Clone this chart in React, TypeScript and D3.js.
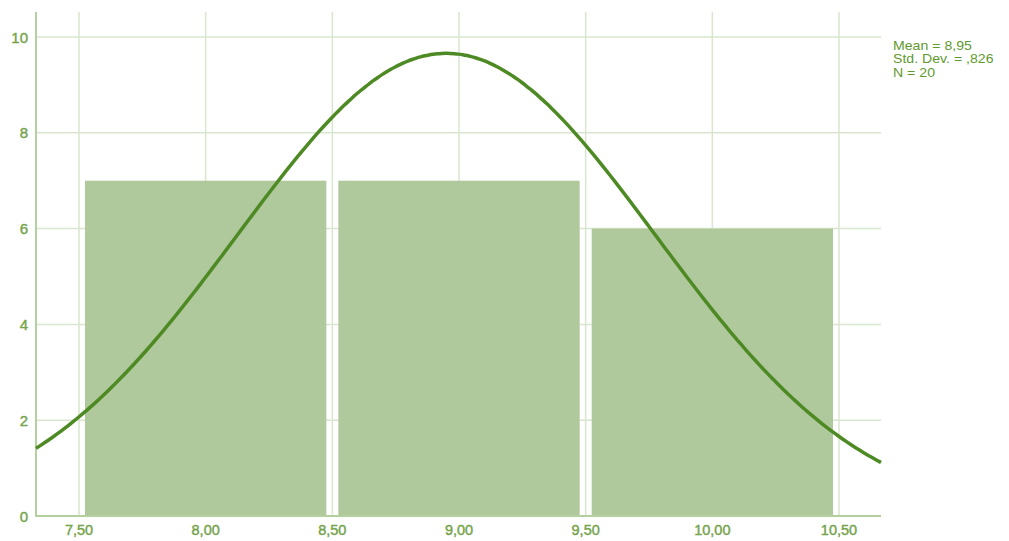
import React from "react";
import * as d3 from "d3";

const binStarts = [7.5, 8.5, 9.5];
const binCounts = [7, 7, 6];
const binWidth = 1;
const xTicks = [7.5, 8.0, 8.5, 9.0, 9.5, 10.0, 10.5];
const yTicks = [0, 2, 4, 6, 8, 10];
const statLabels = ["Mean = 8,95", "Std. Dev. = ,826", "N = 20"];
const mean = 8.95;
const sd = 0.826;
const n = 20;

const W = 1009;
const H = 541;
const left = 36;
const right = 881;
const top = 12;
const bottom = 516;

export default function App() {
  const x = d3.scaleLinear().domain([7.5, 10.5]).range([79, 839]);
  const y = d3.scaleLinear().domain([0, 10]).range([bottom, 37]);
  const x0 = x.invert(left);
  const x1 = x.invert(right);
  const pts: [number, number][] = d3.range(0, 201).map((i) => {
    const v = x0 + ((x1 - x0) * i) / 200;
    const z = (v - mean) / sd;
    const d = (n * binWidth) / (sd * Math.sqrt(2 * Math.PI)) * Math.exp(-0.5 * z * z);
    return [v, d];
  });
  const line = d3
    .line<[number, number]>()
    .x((d) => x(d[0]))
    .y((d) => y(d[1]))
    .curve(d3.curveBasis);
  const fmt = (v: number) => v.toFixed(2).replace(".", ",");
  const textColor = "#74a34a";
  const font = "Liberation Sans, Arial, sans-serif";
  return (
    <svg width={W} height={H} style={{ position: "absolute", left: 0, top: 0 }}>
      <rect x={0} y={0} width={W} height={H} fill="#fff" />
      {xTicks.map((t) => (
        <line key={"vx" + t} x1={x(t)} x2={x(t)} y1={top} y2={bottom} stroke="#d9e6cf" strokeWidth={1.5} />
      ))}
      {yTicks.filter((t) => t > 0).map((t) => (
        <line key={"hy" + t} x1={left} x2={right} y1={y(t)} y2={y(t)} stroke="#d9e6cf" strokeWidth={1.5} />
      ))}
      {binStarts.map((b, i) => (
        <rect
          key={"b" + i}
          x={x(b) + 6}
          width={x(b + binWidth) - x(b) - 12}
          y={y(binCounts[i])}
          height={bottom - y(binCounts[i])}
          fill="#afc89c"
        />
      ))}
      <line x1={left} x2={left} y1={top} y2={bottom + 1} stroke="#b5d09f" strokeWidth={2} />
      <line x1={left} x2={right} y1={bottom} y2={bottom} stroke="#b5d09f" strokeWidth={2} />
      <path d={line(pts) || ""} fill="none" stroke="#4e8a24" strokeWidth={3.5} />
      {yTicks.map((t) => (
        <text key={"yl" + t} x={28} y={y(t) + 5.5} textAnchor="end" fontFamily={font} fontSize={15}
          fill={textColor} stroke={textColor} strokeWidth={0.4}>
          {t}
        </text>
      ))}
      {xTicks.map((t) => (
        <text key={"xl" + t} x={x(t)} y={535} textAnchor="middle" fontFamily={font} fontSize={14.5}
          fill={textColor} stroke={textColor} strokeWidth={0.4}>
          {fmt(t)}
        </text>
      ))}
      {statLabels.map((s, i) => (
        <text key={"s" + i} transform={`translate(893,${49.5 + i * 13.5}) scale(1.13,1)`} fontFamily={font}
          fontSize={12.5} fill="#5f9a2f">
          {s}
        </text>
      ))}
    </svg>
  );
}
